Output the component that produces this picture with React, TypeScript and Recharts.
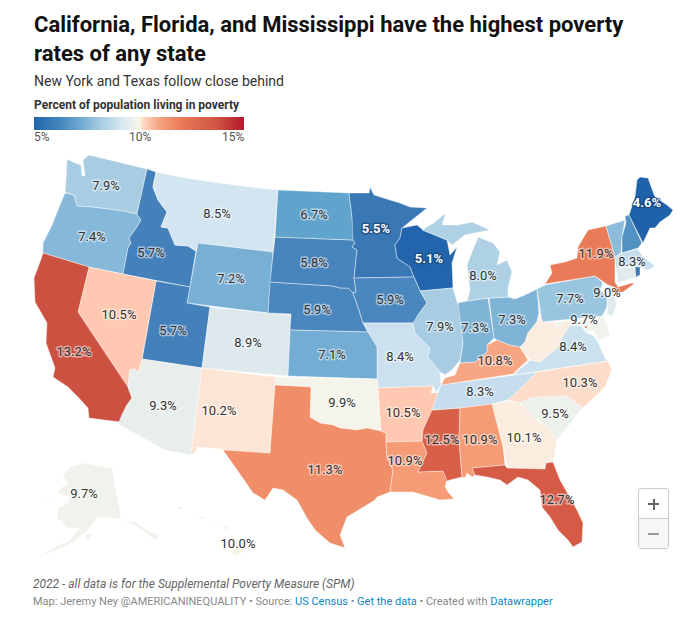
import React from "react";
import { ScatterChart, Scatter, XAxis, YAxis } from "recharts";

type Pt = [number, number];

// Poverty rate (percent) read from the map; unlabelled states are estimated from their colour.
const stateValues: Record<string, number> = {
  WA: 7.9, OR: 7.4, CA: 13.2, NV: 10.5, ID: 5.7, MT: 8.5, WY: 7.2, UT: 5.7, AZ: 9.3, CO: 8.9, NM: 10.2,
  ND: 6.7, SD: 5.8, NE: 5.9, KS: 7.1, OK: 9.9, TX: 11.3, MN: 5.5, IA: 5.9, MO: 8.4, AR: 10.5, LA: 10.9,
  WI: 5.1, IL: 7.9, MI: 8.0, IN: 7.3, OH: 7.3, KY: 10.8, TN: 8.3, MS: 12.5, AL: 10.9, GA: 10.1, FL: 12.7,
  SC: 9.5, NC: 10.3, VA: 8.4, WV: 10.1, PA: 7.7, NY: 11.9, VT: 7.5, NH: 6.2, ME: 4.6, MA: 8.3, RI: 5.5,
  CT: 9.1, NJ: 9.0, DE: 7.6, MD: 9.7, DC: 12.5, AK: 9.7, HI: 10.0,
};

// Label anchors, in map units
const labelAnchors: Record<string, Pt> = {
  WA: [106, 185], OR: [92, 236], ID: [151, 252], MT: [217, 213], WY: [231, 278], ND: [314, 214], SD: [314, 262],
  NE: [317, 309], MN: [376, 228], WI: [429, 258], IA: [390, 299], KS: [332, 354], MO: [400, 356], CO: [248, 342],
  UT: [173, 330], NV: [119, 314], CA: [74, 351], AZ: [163, 405], NM: [219, 410], TX: [325, 469], OK: [342, 402],
  AR: [403, 412], LA: [405, 460], MS: [442, 439], AL: [480, 439], GA: [524, 437], FL: [557, 499], SC: [555, 413],
  NC: [580, 382], TN: [480, 391], KY: [495, 360], VA: [573, 346], MD: [584, 319], IL: [440, 326], IN: [475, 327],
  OH: [512, 319], MI: [483, 275], PA: [570, 298], NY: [596, 253], ME: [647, 202], MA: [632, 261], NJ: [607, 292],
  AK: [84, 493], HI: [238, 543],
};

const whiteLabelStates = ["MN", "WI", "ME"];

// Colour ramp: value -> colour
const rampValues = [4.6, 5.1, 5.7, 6.7, 7.2, 7.9, 8.5, 9, 9.5, 10, 10.2, 10.5, 10.9, 11.9, 12.5, 13.2, 15];
const rampColors = ["#1f62aa", "#2265ac", "#4480ba", "#60a3cc", "#78b0d5", "#a8cde3", "#d3e5f1", "#e0eaec", "#ecf1ec", "#f6f5e9", "#fde5d5", "#fec9b0", "#f59b75", "#e97b58", "#d85f48", "#cd5140", "#b2182b"];

// State outlines, in map units
const outlines: Record<string, Pt[][]> = {
  WA: [[[89,155],[147,169],[137,214],[123,211],[108,209],[92,207],[77,206],[74,195],[65,192],[66,180],[67,159],[73,162],[81,165],[82,176],[85,176],[84,168],[83,160]]],
  OR: [[[65,193],[74,195],[77,206],[92,207],[108,209],[123,211],[137,214],[141,220],[137,227],[129,238],[131,243],[128,248],[123,274],[89,267],[43,253],[43,243],[52,225],[60,205]]],
  ID: [[[147,169],[156,172],[153,187],[158,200],[167,212],[161,227],[168,228],[175,245],[188,246],[196,251],[190,287],[123,274],[128,248],[131,243],[129,238],[137,227],[141,220],[137,214]]],
  MT: [[[156,172],[186,178],[220,183],[250,187],[278,190],[273,252],[198,243],[196,251],[188,246],[175,245],[168,228],[161,227],[167,212],[158,200],[153,187]]],
  WY: [[[198,243],[273,252],[268,313],[187,303]]],
  UT: [[[156,281],[190,287],[187,303],[210,307],[202,368],[142,359]]],
  NV: [[[89,267],[156,281],[142,359],[139,372],[134,369],[130,370],[128,387],[78,312]]],
  CA: [[[43,253],[89,267],[78,312],[128,387],[132,398],[127,405],[122,415],[120,422],[89,418],[88,408],[78,397],[68,387],[53,377],[55,368],[46,343],[47,323],[35,302],[34,278],[40,262]]],
  AZ: [[[142,359],[139,372],[134,369],[130,370],[128,387],[132,398],[127,405],[122,415],[118,424],[165,450],[191,455],[202,368]]],
  CO: [[[210,307],[268,313],[291,315],[290,330],[288,376],[202,368]]],
  NM: [[[202,368],[275,377],[275,385],[270,453],[223,450],[222,449],[197,447],[196,452],[191,455]]],
  NE: [[[270,282],[333,286],[340,288],[348,288],[353,293],[359,310],[363,323],[368,332],[290,330],[291,314],[268,313]]],
  SD: [[[275,237],[353,240],[355,243],[352,247],[357,250],[354,278],[356,292],[353,293],[348,288],[340,288],[333,286],[270,282]]],
  ND: [[[278,190],[349,193],[352,217],[355,235],[353,240],[275,237]]],
  MN: [[[349,193],[369,193],[370,187],[374,195],[390,200],[400,203],[410,207],[427,208],[402,228],[400,238],[395,245],[397,258],[410,267],[414,277],[354,278],[357,250],[352,247],[355,243],[353,240],[352,217]]],
  WI: [[[402,228],[417,225],[423,230],[447,240],[450,255],[457,247],[452,263],[453,288],[420,291],[414,277],[410,267],[397,258],[395,245],[400,238]]],
  IA: [[[354,278],[414,277],[420,291],[427,303],[418,315],[414,325],[413,323],[363,323],[359,310],[353,293],[356,292]]],
  MO: [[[363,323],[413,323],[415,333],[430,348],[428,357],[440,372],[441,385],[436,392],[433,386],[378,388],[377,379],[377,347],[368,332]]],
  KS: [[[290,330],[368,332],[377,347],[377,379],[288,376]]],
  OK: [[[275,377],[377,379],[378,388],[381,431],[367,428],[357,430],[340,428],[333,425],[320,423],[310,417],[311,387],[275,385]]],
  TX: [[[275,385],[311,387],[310,417],[320,423],[333,425],[340,428],[357,430],[367,428],[381,431],[386,433],[386,442],[387,457],[393,470],[390,492],[377,497],[375,500],[347,517],[340,535],[345,548],[330,543],[315,530],[307,518],[297,500],[283,490],[273,488],[265,500],[253,493],[242,477],[223,450],[270,453]]],
  AR: [[[378,388],[433,386],[431,393],[441,393],[432,413],[423,430],[422,441],[386,442],[386,433],[381,431]]],
  LA: [[[386,442],[422,441],[427,453],[418,472],[443,471],[447,480],[445,487],[448,492],[454,499],[440,500],[430,497],[413,492],[390,492],[393,470],[387,457]]],
  MS: [[[432,410],[460,408],[459,440],[462,477],[450,480],[447,481],[443,471],[418,472],[427,453],[422,441],[423,430]]],
  TN: [[[432,410],[437,395],[441,385],[537,372],[530,380],[508,400],[492,404],[460,408]]],
  KY: [[[441,385],[445,378],[455,375],[460,363],[475,362],[487,352],[487,345],[497,340],[510,345],[520,347],[528,360],[518,369],[513,374]]],
  IL: [[[420,291],[453,288],[457,302],[460,308],[463,343],[460,360],[452,370],[445,375],[440,372],[428,357],[430,348],[415,333],[413,323],[418,315],[427,303]]],
  IN: [[[458,303],[467,301],[488,298],[494,338],[487,345],[487,352],[475,362],[460,363],[463,343]]],
  OH: [[[489,298],[508,297],[515,299],[525,295],[537,289],[539,313],[537,322],[528,333],[525,342],[520,347],[510,345],[497,340],[494,338]]],
  MI: [
    [[467,301],[470,290],[467,265],[472,252],[478,237],[493,243],[500,252],[497,265],[507,260],[512,272],[508,288],[508,297],[488,298]],
    [[422,230],[435,222],[446,213],[442,225],[458,225],[472,222],[490,230],[465,235],[452,245],[447,240]],
  ],
  PA: [[[537,289],[545,285],[595,276],[603,283],[600,290],[607,297],[607,307],[602,316],[542,322]]],
  NY: [[[545,284],[552,273],[550,265],[565,262],[577,258],[578,247],[588,230],[606,226],[615,257],[615,282],[618,287],[632,283],[634,284],[623,292],[617,293],[615,288],[608,285],[595,276]]],
  VT: [[[606,226],[625,220],[622,237],[621,253],[615,257]]],
  NH: [[[625,216],[629,215],[642,243],[638,248],[622,253],[622,237],[626,223]]],
  ME: [[[629,215],[635,197],[637,180],[640,177],[648,178],[655,197],[667,205],[673,210],[670,215],[660,222],[655,228],[650,228],[643,243]]],
  MA: [[[615,257],[622,253],[638,249],[643,257],[655,266],[648,270],[640,267],[616,268]]],
  CT: [[[616,268],[635,267],[636,277],[618,283]]],
  RI: [[[635,267],[640,267],[640,275],[636,277]]],
  NJ: [[[608,285],[615,288],[615,300],[617,303],[612,317],[607,313],[608,307],[607,297],[603,290]]],
  DE: [[[603,317],[608,328],[603,330]]],
  MD: [[[556,322],[603,317],[608,328],[610,336],[598,340],[594,330],[585,332],[582,326],[570,324],[556,328]]],
  VA: [[[513,375],[520,369],[530,360],[540,362],[557,348],[563,335],[570,325],[582,326],[585,332],[594,336],[598,342],[605,358],[608,361]]],
  WV: [[[520,347],[525,342],[528,333],[537,322],[539,313],[542,322],[556,322],[556,328],[568,320],[570,325],[563,335],[557,348],[540,362],[530,360]]],
  DC: [[[585,326],[587,326],[587,328],[585,328]]],
  NC: [[[508,400],[527,382],[537,372],[608,361],[612,370],[605,387],[583,408],[567,397],[543,397],[532,398],[520,403]]],
  SC: [[[520,403],[532,397],[543,397],[567,396],[582,408],[567,428],[557,440],[548,428],[533,417]]],
  GA: [[[492,404],[508,401],[520,403],[533,417],[548,428],[557,440],[553,462],[546,463],[545,469],[507,468],[503,447]]],
  AL: [[[460,408],[492,404],[503,447],[505,465],[472,468],[475,475],[472,477],[467,473],[465,478],[462,477],[459,440]]],
  FL: [[[472,468],[505,465],[507,468],[545,469],[546,463],[553,462],[560,480],[577,510],[583,523],[582,542],[573,547],[568,540],[558,530],[550,517],[542,507],[540,490],[528,480],[518,477],[507,485],[500,480],[487,477],[475,475]]],
  AK: [
    [[82,463],[112,468],[121,518],[135,522],[150,532],[159,535],[157,541],[148,535],[135,525],[123,519],[105,517],[98,517],[88,530],[73,542],[57,550],[40,556],[55,547],[70,540],[80,528],[67,528],[57,517],[58,508],[68,503],[70,497],[57,493],[62,487],[68,485],[63,475],[70,467]],
    [[85,535],[92,533],[90,539],[86,540]],
    [[45,497],[50,500],[52,502],[47,500]],
  ],
  HI: [
    [[177,507],[183,507],[182,510],[177,509]],
    [[198,515],[205,517],[203,519],[200,518]],
    [[212,522],[217,522],[217,524]],
    [[222,525],[230,528],[225,530]],
    [[233,538],[247,543],[243,552],[233,556],[232,548]],
  ],
};

const drawOrder = Object.keys(outlines);

function toRgb(hex: string): number[] {
  return [1, 3, 5].map((i) => parseInt(hex.slice(i, i + 2), 16));
}

function colorFor(v: number): string {
  for (let i = 1; i < rampValues.length; i++) {
    if (v <= rampValues[i]) {
      const t = (v - rampValues[i - 1]) / (rampValues[i] - rampValues[i - 1]);
      const a = toRgb(rampColors[i - 1]);
      const b = toRgb(rampColors[i]);
      return `rgb(${a.map((c, k) => Math.round(c + (b[k] - c) * t)).join(",")})`;
    }
  }
  return rampColors[rampColors.length - 1];
}

const labelData = Object.keys(labelAnchors).map((s) => ({
  state: s,
  x: labelAnchors[s][0],
  y: labelAnchors[s][1],
  value: stateValues[s],
}));

const NoMark = () => <g />;

const LabelMark = (props: any) => {
  const { cx, cy, payload } = props;
  const white = whiteLabelStates.includes(payload.state);
  return (
    <text
      x={cx}
      y={cy + 4.5}
      textAnchor="middle"
      fontFamily="Roboto"
      fontSize={13}
      fontWeight={white ? 700 : 400}
      fill={white ? "#ffffff" : "#333333"}
      stroke={white ? "#123a66" : "#ffffff"}
      strokeOpacity={white ? 0.55 : 0.5}
      strokeWidth={3}
      strokeLinejoin="round"
      style={{ paintOrder: "stroke" }}
    >
      {payload.value.toFixed(1)}%
    </text>
  );
};

const abs = (left: number, top: number, extra: React.CSSProperties = {}): React.CSSProperties => ({
  position: "absolute",
  left,
  top,
  whiteSpace: "nowrap",
  fontFamily: "Roboto",
  ...extra,
});

export default function App() {
  return (
    <div style={{ position: "absolute", left: 0, top: 0, width: 685, height: 618, background: "#fff", overflow: "hidden" }}>
      <div style={{ position: "absolute", left: 0, top: 0 }}>
        <ScatterChart width={685} height={618} margin={{ top: 0, right: 0, bottom: 0, left: 0 }}>
          <XAxis type="number" dataKey="x" domain={[0, 685]} hide allowDataOverflow />
          <YAxis type="number" dataKey="y" domain={[0, 618]} reversed hide allowDataOverflow />
          {drawOrder.flatMap((s) =>
            outlines[s].map((ring, i) => (
              <Scatter
                key={`${s}-${i}`}
                name={s}
                data={[...ring, ring[0]].map(([x, y]) => ({ x, y }))}
                fill={colorFor(stateValues[s])}
                line={{ fill: colorFor(stateValues[s]), stroke: "#ffffff", strokeWidth: 0.6, strokeOpacity: 0.7 }}
                shape={NoMark}
                isAnimationActive={false}
              />
            ))
          )}
          <Scatter name="labels" data={labelData} shape={LabelMark} isAnimationActive={false} />
        </ScatterChart>
      </div>

      <div style={abs(34, 10, { fontSize: 22, fontWeight: 700, lineHeight: "29px", color: "#111" })}>
        California, Florida, and Mississippi have the highest poverty
        <br />
        rates of any state
      </div>
      <div style={abs(34, 72, { fontSize: 14, lineHeight: "18px", color: "#333" })}>New York and Texas follow close behind</div>
      <div style={abs(34, 98, { fontSize: 12, fontWeight: 700, lineHeight: "15px", color: "#333" })}>Percent of population living in poverty</div>
      <div
        style={{
          position: "absolute",
          left: 34,
          top: 117,
          width: 210,
          height: 13,
          background:
            "linear-gradient(to right,#2065ab 0%,#4a8bc0 14%,#6ea9d0 22%,#a8cde3 32%,#d9e8f0 42%,#f7f5e8 50%,#fdd9c4 52%,#f5a27e 60%,#e97b58 70%,#cd5140 88%,#b2182b 100%)",
        }}
      />
      <div style={abs(34, 130, { fontSize: 12, lineHeight: "15px", color: "#555" })}>5%</div>
      <div style={abs(129, 130, { fontSize: 12, lineHeight: "15px", color: "#555" })}>10%</div>
      <div style={abs(222, 130, { fontSize: 12, lineHeight: "15px", color: "#555" })}>15%</div>

      <div style={abs(33, 577, { fontSize: 12, fontStyle: "italic", lineHeight: "15px", color: "#666" })}>
        2022 - all data is for the Supplemental Poverty Measure (SPM)
      </div>
      <div style={abs(33, 595, { fontSize: 11, lineHeight: "14px", color: "#888" })}>
        Map: Jeremy Ney @AMERICANINEQUALITY • Source: <span style={{ color: "#0f85c4" }}>US Census</span> •{" "}
        <span style={{ color: "#0f85c4" }}>Get the data</span> • Created with <span style={{ color: "#0f85c4" }}>Datawrapper</span>
      </div>

      <div
        style={{
          position: "absolute",
          left: 638,
          top: 488,
          width: 29,
          height: 59,
          border: "1px solid #ccc",
          borderRadius: 3,
          background: "#fff",
          overflow: "hidden",
        }}
      >
        <div style={{ height: 29, borderBottom: "1px solid #ccc", position: "relative" }}>
          <div style={{ position: "absolute", left: 9, top: 14, width: 11, height: 2, background: "#666" }} />
          <div style={{ position: "absolute", left: 13.5, top: 9.5, width: 2, height: 11, background: "#666" }} />
        </div>
        <div style={{ height: 29, background: "#f6f6f6", position: "relative" }}>
          <div style={{ position: "absolute", left: 9, top: 14, width: 11, height: 2, background: "#999" }} />
        </div>
      </div>
    </div>
  );
}
